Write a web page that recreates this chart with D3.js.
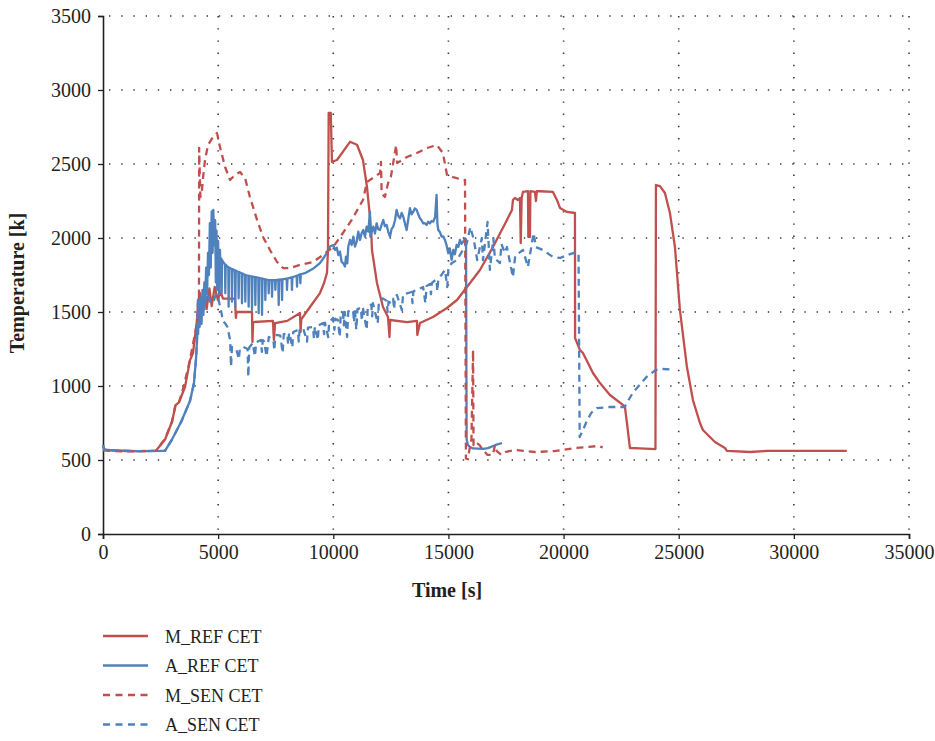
<!DOCTYPE html>
<html>
<head>
<meta charset="utf-8">
<script src="https://cdn.jsdelivr.net/npm/d3@7/dist/d3.min.js"></script>
<style>
  html, body { margin: 0; padding: 0; background: #fff; }
  svg { display: block; }
  text { font-family: "Liberation Serif", "DejaVu Serif", serif; fill: #231f20; }
</style>
</head>
<body>
<svg id="chart" width="935" height="741"></svg>
<script>
// Axis ticks
const xTicks = [0, 5000, 10000, 15000, 20000, 25000, 30000, 35000];
const yTicks = [0, 500, 1000, 1500, 2000, 2500, 3000, 3500];
const seriesNames = ["M_REF CET", "A_REF CET", "M_SEN CET", "A_SEN CET"];

// M_REF CET: [time s, temperature K]
const mRefCET = [
  [0,570],[300,565],[1000,560],[2300,562],[2700,640],[3000,760],[3150,870],[3300,890],
  [3560,993],[3780,1175],[3908,1223],[4081,1446],[4125,1560],[4200,1630],[4300,1540],
  [4400,1650],[4500,1520],[4620,1660],[4720,1540],[4850,1670],[4990,1580],[5100,1640],
  [5210,1590],[5730,1590],[5770,1460],[5800,1500],[6470,1500],[6490,1297],[6520,1432],
  [7380,1440],[7420,1311],[7470,1425],[8000,1440],[8554,1493],[8580,1365],[8610,1450],
  [8988,1534],[9422,1628],[9600,1696],[9726,1764],[9770,1919],[9800,2845],[9890,2845],
  [9943,2514],[10160,2527],[10500,2600],[10725,2650],[11029,2630],[11289,2527],[11463,2345],
  [11593,2142],[11650,2030],[11680,1919],[11897,1696],[12158,1534],[12375,1466],[12440,1331],
  [12470,1446],[13200,1432],[13634,1440],[13648,1345],[13764,1426],[14329,1466],[14936,1527],
  [15371,1581],[15805,1669],[16369,1784],[16934,1939],[17542,2122],[17759,2189],[17802,2257],
  [17889,2270],[18019,2257],[18106,2270],[18140,1966],[18180,2270],[18236,2311],[18454,2316],
  [18470,2007],[18540,2007],[18560,2316],[18757,2311],[18800,2250],[18840,2316],[18975,2316],
  [19539,2311],[19713,2257],[19843,2203],[20147,2176],[20494,2169],[20500,1324],[20711,1243],
  [20842,1223],[21146,1128],[21276,1088],[21580,1020],[22014,939],[22578,872],[22665,858],
  [22752,750],[22882,581],[23316,578],[23990,574],[24011,2358],[24185,2351],[24402,2304],
  [24619,2169],[24836,1939],[25053,1513],[25357,1128],[25618,905],[25922,750],[26052,703],
  [26573,622],[27007,581],[27094,561],[28093,554],[28831,561],[32300,561]
];

// A_REF CET
const aRefCET = [
  [0,600],[60,570],[500,565],[1500,560],[2690,562],[3000,640],[3400,760],[3780,900],
  [3950,1020],[4038,1180],[4080,1300],[4100,1420],[4130,1350],[4170,1560],[4200,1400],
  [4240,1600],[4280,1420],[4320,1650],[4360,1480],[4400,1700],[4430,1560],[4480,1800],
  [4520,1620],[4560,1900],[4600,1750],[4640,2100],[4680,1800],[4720,2180],[4760,1900],
  [4790,2190],[4830,1950],[4870,2120],[4900,1700],[4930,2050],[4960,1650],[5000,1980],
  [5040,1620],[5080,1920],[5110,1700],[5140,1860],
  [5153,1626],[5170,1850],[5297,1820],[5310,1626],[5330,1820],[5442,1800],[5455,1536],
  [5475,1800],[5587,1790],[5600,1570],[5620,1790],[5731,1780],[5745,1536],[5765,1780],
  [5876,1770],[5890,1592],[5910,1770],[6021,1760],[6035,1559],[6055,1760],[6166,1750],
  [6180,1570],[6200,1750],[6310,1745],[6325,1536],[6345,1745],[6455,1740],[6470,1514],
  [6490,1740],[6600,1735],[6615,1547],[6635,1735],[6744,1730],[6760,1491],[6780,1730],
  [6889,1725],[6905,1480],[6925,1725],[7034,1720],[7050,1581],[7070,1720],[7179,1715],
  [7195,1626],[7215,1715],[7324,1715],[7340,1603],[7360,1715],[7468,1715],[7485,1649],
  [7505,1715],[7613,1718],[7630,1547],[7650,1718],[7758,1720],[7775,1581],[7795,1720],
  [7974,1725],[7990,1649],[8010,1725],[8191,1735],[8205,1649],[8225,1735],[8409,1745],
  [8425,1671],[8445,1745],[8554,1755],[8570,1694],[8590,1755],
  [8800,1765],[9100,1790],[9420,1830],[9600,1870],[9726,1900],[9856,1942],[10001,1953],
  [10073,1919],[10150,1935],[10218,1885],[10290,1908],[10362,1840],[10435,1829],[10507,1807],
  [10551,1874],[10608,1829],[10652,1942],[10724,1987],[10797,1953],[10869,2009],[10941,1942],
  [11014,1976],[11086,2043],[11158,1987],[11231,2032],[11303,2054],[11375,2009],[11448,2077],
  [11520,2043],[11592,2178],[11610,2009],[11665,2040],[11737,2077],[11810,2030],[11882,2099],
  [11950,2060],[12027,2054],[12100,2090],[12171,2122],[12240,2080],[12316,2088],[12390,2040],
  [12461,2009],[12530,2060],[12605,2077],[12680,2120],[12750,2190],[12820,2150],[12895,2133],
  [12970,2170],[13039,2144],[13110,2100],[13184,2054],[13250,2120],[13329,2201],[13400,2160],
  [13474,2178],[13540,2200],[13618,2190],[13690,2160],[13763,2133],[13830,2120],[13908,2099],
  [13980,2100],[14052,2088],[14120,2110],[14197,2099],[14270,2115],[14342,2111],[14420,2140],
  [14486,2291],[14520,2100],[14559,2054],[14630,2040],[14703,2009],[14780,2010],[14848,1987],
  [14920,1950],[14993,1897],[15060,1930],[15138,1852],[15210,1919],[15280,1890],[15355,1953],
  [15430,1940],[15499,1987],[15570,1960],[15644,1976],[15720,1998],[15765,1990],[15790,640],
  [15848,600],[15935,588],[16065,578],[16500,575],[16717,580],[17021,600],[17325,615]
];

// M_SEN CET
const mSenCET = [
  [0,565],[300,562],[1000,558],[2300,562],[2700,645],[3000,760],[3150,875],[3300,890],
  [3500,995],[3780,1180],[4040,1390],[4130,1500],[4168,1580],[4175,2608],[4200,2450],
  [4230,2277],[4280,2290],[4342,2405],[4430,2527],[4560,2628],[4776,2682],[4950,2709],
  [5080,2615],[5300,2480],[5520,2392],[5730,2426],[5950,2446],[6170,2405],[6380,2277],
  [6690,2122],[6950,2007],[7250,1919],[7560,1838],[7820,1797],[8120,1797],[8550,1818],
  [9120,1838],[9550,1885],[9990,1939],[10420,2034],[10800,2122],[11290,2257],[11460,2378],
  [12030,2439],[12070,2514],[12100,2300],[12240,2277],[12380,2372],[12500,2412],[12730,2628],
  [12770,2507],[13200,2547],[13630,2574],[14070,2608],[14500,2628],[14760,2574],[14940,2426],
  [15200,2412],[15630,2392],[15720,2392],[15760,510],[15850,505],[15900,560],[16000,640],
  [16070,1243],[16090,600],[16200,620],[16350,601],[16500,568],[16700,534],[16930,534],
  [17020,600],[17100,560],[17300,534],[17500,555],[17900,568],[18760,554],[19600,560],
  [20500,581],[21100,588],[21500,595],[21700,585]
];

// A_SEN CET
const aSenCET = [
  [0,600],[60,570],[500,565],[1500,560],[2690,562],[3000,640],[3400,760],[3780,900],
  [3950,1020],[4038,1180],[4080,1300],[4120,1580],[4170,1500],[4220,1600],[4260,1450],
  [4300,1560],[4340,1640],[4400,1520],[4470,1600],[4560,1626],[4650,1570],[4780,1560],
  [4900,1620],[4990,1603],[5150,1491],[5200,1440],[5300,1424],[5400,1400],[5520,1311],
  [5560,1131],[5600,1264],[5800,1243],[5900,1180],[5940,1250],[6100,1264],[6280,1250],
  [6310,1061],[6350,1260],[6500,1290],[6600,1200],[6650,1295],[6860,1311],[6900,1230],
  [6940,1310],[7000,1300],[7100,1200],[7200,1331],[7400,1310],[7440,1240],[7480,1335],
  [7540,1345],[7700,1340],[7800,1223],[7850,1350],[8000,1355],[8040,1280],[8080,1358],
  [8100,1358],[8220,1260],[8260,1365],[8460,1378],[8500,1300],[8540,1380],[8690,1392],
  [8860,1300],[8900,1395],[9120,1398],[9160,1320],[9200,1400],[9330,1310],[9370,1410],
  [9560,1426],[9600,1350],[9640,1428],[9780,1330],[9820,1430],[9990,1460],[10050,1380],
  [10090,1455],[10200,1446],[10280,1331],[10320,1470],[10420,1500],[10460,1410],[10500,1500],
  [10600,1331],[10650,1505],[10860,1513],[10900,1430],[10940,1515],[11000,1380],[11050,1520],
  [11200,1528],[11240,1440],[11280,1534],[11450,1380],[11500,1540],[11650,1550],[11690,1470],
  [11720,1560],[11930,1424],[11980,1570],[12150,1592],[12320,1575],[12360,1500],[12400,1570],
  [12500,1560],[12600,1590],[12640,1520],[12680,1600],[12760,1615],[12980,1513],[13030,1620],
  [13200,1626],[13400,1635],[13440,1560],[13480,1640],[13630,1649],[13900,1669],[14000,1560],
  [14050,1675],[14200,1690],[14240,1620],[14280,1695],[14330,1703],[14480,1720],[14520,1640],
  [14560,1725],[14630,1736],[14850,1784],[14950,1669],[15000,1800],[15150,1831],[15370,1851],
  [15630,1919],[15800,1966],[15950,2074],[16100,1990],[16250,1851],[16450,2000],[16500,1850],
  [16700,2108],[16800,1784],[16950,2000],[17020,1860],[17240,1831],[17300,1960],[17450,1900],
  [17540,1939],[17800,1736],[17900,1880],[18240,1919],[18450,1804],[18500,1850],[18700,2034],
  [18800,1939],[19100,1919],[19540,1872],[19850,1865],[20150,1885],[20450,1899],[20650,1899],
  [20700,655],[20800,690],[20900,723],[21000,760],[21200,818],[21450,851],[22000,858],
  [22650,858],[22900,926],[23000,953],[23600,1061],[24000,1108],[24300,1115],[24619,1112]
];

const RED = "#c0504d", BLUE = "#4f81bd";
const series = [
  { name: seriesNames[0], data: mRefCET, color: RED,  dash: null },
  { name: seriesNames[1], data: aRefCET, color: BLUE, dash: null },
  { name: seriesNames[2], data: mSenCET, color: RED,  dash: "7,5" },
  { name: seriesNames[3], data: aSenCET, color: BLUE, dash: "7,5" }
];

const svg = d3.select("#chart");
const plotL = 103, plotR = 909, plotT = 16, plotB = 534;

const x = d3.scaleLinear().domain([0, 35000]).range([plotL, plotR]);
const y = d3.scaleLinear().domain([0, 3500]).range([plotB, plotT]);

// dotted grid
const grid = svg.append("g").attr("stroke", "#3a3a3a").attr("stroke-width", 1.6)
  .attr("stroke-dasharray", "1.4,10.8").attr("fill", "none");
yTicks.filter(d => d > 0).forEach(d => {
  grid.append("line").attr("x1", plotL + 6).attr("x2", plotR + 1).attr("y1", y(d)).attr("y2", y(d));
});
xTicks.filter(d => d > 0).forEach(d => {
  grid.append("line").attr("x1", x(d)).attr("x2", x(d)).attr("y1", plotT).attr("y2", plotB + 6);
});

// axes
const xAxis = d3.axisBottom(x).tickValues(xTicks).tickSize(5).tickPadding(6).tickFormat(d3.format("d"));
const yAxis = d3.axisLeft(y).tickValues(yTicks).tickSize(5).tickPadding(7).tickFormat(d3.format("d"));

const gx = svg.append("g").attr("transform", `translate(0,${plotB})`).call(xAxis);
const gy = svg.append("g").attr("transform", `translate(${plotL},0)`).call(yAxis);
[gx, gy].forEach(g => {
  g.select(".domain").attr("stroke", "#231f20").attr("stroke-width", 1.6);
  g.selectAll(".tick line").attr("stroke", "#231f20").attr("stroke-width", 1.3);
  g.selectAll(".tick text").attr("font-size", 20).attr("font-family", "Liberation Serif, serif").attr("fill", "#231f20");
});

// series
const line = d3.line().x(d => x(d[0])).y(d => y(d[1]));
series.forEach(s => {
  svg.append("path").datum(s.data)
    .attr("d", line)
    .attr("fill", "none")
    .attr("stroke", s.color)
    .attr("stroke-width", 2.3)
    .attr("stroke-linejoin", "round")
    .attr("stroke-dasharray", s.dash);
});

// axis titles
svg.append("text").attr("x", 447).attr("y", 597).attr("text-anchor", "middle")
  .attr("font-size", 20).attr("font-weight", "bold").text("Time [s]");
svg.append("text").attr("transform", "translate(24,283) rotate(-90)").attr("text-anchor", "middle")
  .attr("font-size", 20).attr("font-weight", "bold").text("Temperature [k]");

// legend
const legend = svg.append("g");
series.forEach((s, i) => {
  const cy = 636 + i * 29.5;
  legend.append("line").attr("x1", 103).attr("x2", 148).attr("y1", cy).attr("y2", cy)
    .attr("stroke", s.color).attr("stroke-width", 2.3).attr("stroke-dasharray", s.dash ? "7,5.5" : null);
  legend.append("text").attr("x", 165).attr("y", cy + 6.5).attr("font-size", 18).text(s.name);
});
</script>
</body>
</html>
